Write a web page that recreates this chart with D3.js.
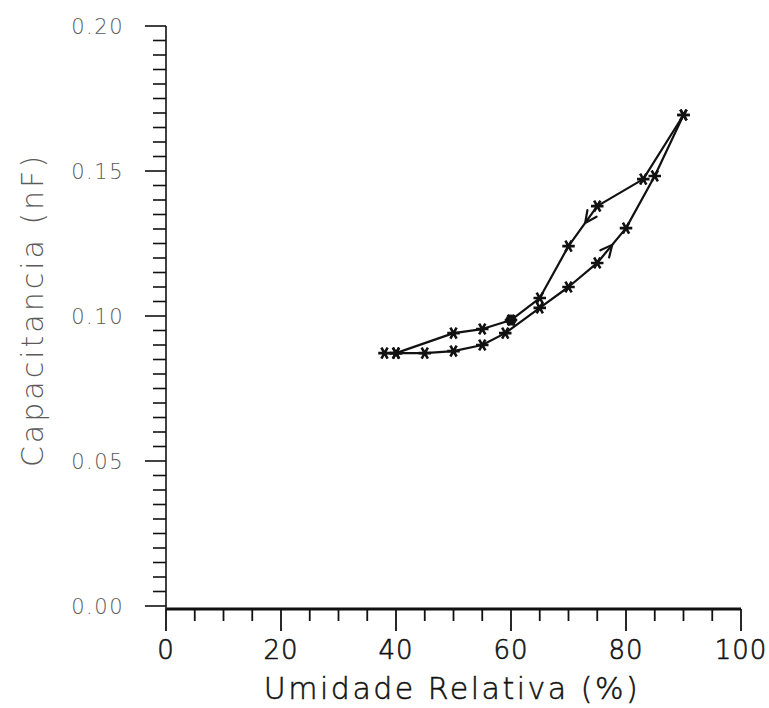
<!DOCTYPE html>
<html>
<head>
<meta charset="utf-8">
<script src="https://cdn.jsdelivr.net/npm/d3@7"></script>
<style>
  html, body { margin: 0; padding: 0; background: #fff; }
  svg text { font-family: "DejaVu Sans", sans-serif; }
</style>
</head>
<body>
<svg id="chart" width="769" height="708"></svg>
<script>
// Relative humidity (%) and capacitance (nF): rising branch (adsorption)
const adsHumidity = [38, 40, 45, 50, 55, 59, 65, 70, 75, 80, 85, 90];
const adsCapacitance = [0.0872, 0.0872, 0.0872, 0.0879, 0.0900, 0.0941, 0.1028, 0.1100, 0.1183, 0.1303, 0.1483, 0.1693];

// Falling branch (desorption), listed from high humidity back down
const desHumidity = [90, 83, 75, 70, 65, 60, 55, 50, 40];
const desCapacitance = [0.1693, 0.1472, 0.1379, 0.1241, 0.1062, 0.0986, 0.0955, 0.0941, 0.0872];

// Direction arrows: [humidity, capacitance] positions on each branch
const adsArrow = [77.6, 0.1246];
const desArrow = [72.9, 0.1327];

const xTickLabels = [0, 20, 40, 60, 80, 100];
const yTickLabels = ["0.00", "0.05", "0.10", "0.15", "0.20"];

const svg = d3.select("#chart");
const x = d3.scaleLinear().domain([0, 100]).range([166, 741]);
const y = d3.scaleLinear().domain([0, 0.2]).range([606, 26]);
const xAxisY = 609;

const ink = "#111";
const grey = "#5a5a5a";

// ---- Y axis: minor ticks every 0.005, major every 0.05
const yAxis = svg.append("g").attr("stroke", ink).attr("stroke-width", 1.6);
yAxis.append("line").attr("x1", x(0)).attr("x2", x(0)).attr("y1", y(0.2)).attr("y2", xAxisY);
const yMinor = d3.range(0, 41).map(i => i * 0.005);
yAxis.selectAll("line.tick").data(yMinor).join("line")
  .attr("class", "tick")
  .attr("x1", d => x(0) - (Math.round(d * 200) % 10 === 0 ? 21 : 13))
  .attr("x2", x(0))
  .attr("y1", d => y(d)).attr("y2", d => y(d));

svg.append("g").selectAll("text").data(yTickLabels).join("text")
  .attr("x", 124)
  .attr("y", d => y(+d) + 8)
  .attr("text-anchor", "end")
  .attr("font-size", 21)
  .attr("font-weight", 200)
  .attr("letter-spacing", 1.5)
  .attr("fill", grey)
  .text(d => d);

// ---- X axis: minor ticks every 5, major every 20
const xAxis = svg.append("g").attr("stroke", ink).attr("stroke-width", 1.8);
xAxis.append("line").attr("x1", x(0)).attr("x2", x(100)).attr("y1", xAxisY).attr("y2", xAxisY)
  .attr("stroke-width", 3);
const xMinor = d3.range(0, 21).map(i => i * 5);
xAxis.selectAll("line.tick").data(xMinor).join("line")
  .attr("class", "tick")
  .attr("x1", d => x(d)).attr("x2", d => x(d))
  .attr("y1", xAxisY)
  .attr("y2", d => xAxisY + (d % 20 === 0 ? 22 : 12));

svg.append("g").selectAll("text").data(xTickLabels).join("text")
  .attr("x", d => x(d))
  .attr("y", 659)
  .attr("text-anchor", "middle")
  .attr("font-size", 26)
  .attr("font-weight", 200)
  .attr("letter-spacing", 1)
  .attr("fill", ink)
  .attr("stroke", ink)
  .attr("stroke-width", 0.6)
  .text(d => d);

// ---- Axis titles
svg.append("text")
  .attr("x", 452).attr("y", 699)
  .attr("text-anchor", "middle")
  .attr("font-size", 30)
  .attr("font-weight", 200)
  .attr("letter-spacing", 2.5)
  .attr("fill", ink)
  .attr("stroke", ink)
  .attr("stroke-width", 0.5)
  .text("Umidade Relativa (%)");

svg.append("text")
  .attr("transform", `translate(43, 310) rotate(-90)`)
  .attr("text-anchor", "middle")
  .attr("font-size", 30)
  .attr("font-weight", 200)
  .attr("letter-spacing", 3)
  .attr("fill", grey)
  .text("Capacitancia (nF)");

// ---- Curves
const adsPts = adsHumidity.map((h, i) => [h, adsCapacitance[i]]);
const desPts = desHumidity.map((h, i) => [h, desCapacitance[i]]);

const line = d3.line()
  .x(d => x(d[0])).y(d => y(d[1]));

const plot = svg.append("g");
[adsPts, desPts].forEach(pts => {
  plot.append("path")
    .attr("d", line(pts))
    .attr("fill", "none")
    .attr("stroke", ink)
    .attr("stroke-width", 2.2)
    .attr("stroke-linejoin", "round");
});

// ---- Asterisk markers
const star = d3.symbol().type(d3.symbolAsterisk).size(110);
const allPts = adsPts.concat(desPts);
plot.selectAll("path.mk").data(allPts).join("path")
  .attr("class", "mk")
  .attr("d", star)
  .attr("transform", d => `translate(${x(d[0])},${y(d[1])}) rotate(90)`)
  .attr("fill", "none")
  .attr("stroke", ink)
  .attr("stroke-width", 2.6);

// heavier blot where the two branches meet near 60 %
plot.append("circle")
  .attr("cx", x(desHumidity[5])).attr("cy", y(desCapacitance[5]))
  .attr("r", 5.5).attr("fill", ink);

// ---- Open arrowheads showing the direction of each sweep
function arrowHead(pt, pts) {
  // direction taken from the neighbouring points on the branch
  let best = 0;
  for (let i = 0; i < pts.length - 1; i++) {
    const a = pts[i], b = pts[i + 1];
    if ((pt[0] - a[0]) * (pt[0] - b[0]) <= 0) { best = i; break; }
  }
  const a = pts[best], b = pts[best + 1];
  const ang = Math.atan2(y(b[1]) - y(a[1]), x(b[0]) - x(a[0]));
  const t = (pt[0] - a[0]) / (b[0] - a[0]);
  const px = x(a[0]) + t * (x(b[0]) - x(a[0]));
  const py = y(a[1]) + t * (y(b[1]) - y(a[1]));
  const L = 13, spread = 0.45;
  const p1 = [px - L * Math.cos(ang - spread), py - L * Math.sin(ang - spread)];
  const p2 = [px - L * Math.cos(ang + spread), py - L * Math.sin(ang + spread)];
  plot.append("path")
    .attr("d", `M${p1[0]},${p1[1]}L${px},${py}L${p2[0]},${p2[1]}`)
    .attr("fill", "none")
    .attr("stroke", ink)
    .attr("stroke-width", 2.2)
    .attr("stroke-linecap", "round");
}
arrowHead(adsArrow, adsPts);
arrowHead(desArrow, desPts);
</script>
</body>
</html>
